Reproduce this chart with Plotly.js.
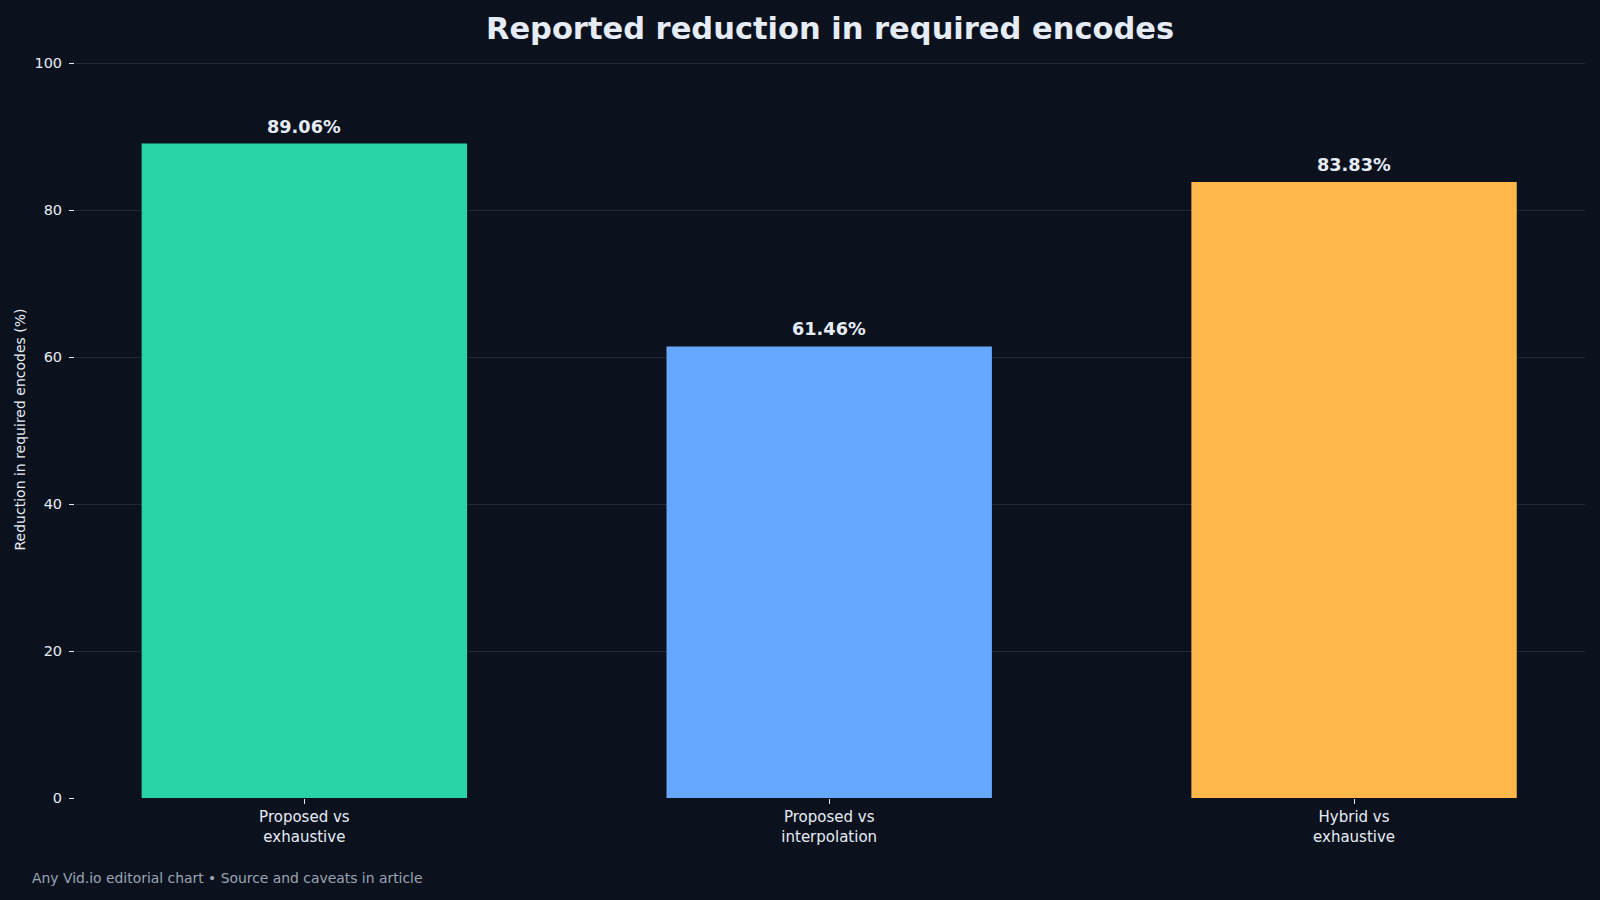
<!DOCTYPE html>
<html>
<head>
<meta charset="utf-8">
<script src="https://cdn.plot.ly/plotly-3.0.1.min.js"></script>
<style>
  html, body { margin: 0; padding: 0; background: #0b121e; }
  #chart { width: 1600px; height: 900px; }
</style>
</head>
<body>
<div id="chart"></div>
<script>
// values
const categories = ["Proposed vs<br>exhaustive", "Proposed vs<br>interpolation", "Hybrid vs<br>exhaustive"];
const reductions = [89.06, 61.46, 83.83];
const barColors = ["#28d3a5", "#66a7ff", "#ffb64a"];
const yTicks = [0, 20, 40, 60, 80, 100];

const textColor = "#e6ecf5";
const font = "DejaVu Sans, Verdana, sans-serif";

const trace = {
  type: "bar",
  x: categories,
  y: reductions,
  width: 0.62,
  marker: { color: barColors, line: { width: 0 } },
  hoverinfo: "skip",
};

const labels = categories.map((c, i) => ({
  x: c,
  y: reductions[i],
  text: "<b>" + reductions[i].toFixed(2) + "%</b>",
  showarrow: false,
  yanchor: "bottom",
  yshift: 5,
  font: { family: font, size: 17.7, color: textColor },
}));

labels.push({
  xref: "paper",
  yref: "paper",
  x: -0.03,
  y: -0.108,
  xanchor: "left",
  yanchor: "middle",
  showarrow: false,
  text: "Any Vid.io editorial chart \u2022 Source and caveats in article",
  font: { family: font, size: 13.9, color: "#9ba5b4" },
});

const layout = {
  width: 1600,
  height: 900,
  paper_bgcolor: "#0b121e",
  plot_bgcolor: "#0b121e",
  font: { family: font, color: textColor },
  margin: { l: 75, r: 15, t: 61, b: 102 },
  showlegend: false,
  title: {
    text: "<b>Reported reduction in required encodes</b>",
    x: 0.5,
    xref: "paper",
    y: 0.969,
    yanchor: "middle",
    font: { family: font, size: 30.5, color: textColor },
  },
  xaxis: {
    type: "category",
    range: [-0.437, 2.44],
    showgrid: false,
    zeroline: false,
    showline: false,
    ticks: "outside",
    ticklen: 5,
    tickcolor: textColor,
    tickfont: { family: font, size: 15, color: textColor },
  },
  yaxis: {
    range: [0, 100.3],
    tickvals: yTicks,
    showgrid: true,
    gridcolor: "#222a37",
    gridwidth: 1,
    zeroline: false,
    showline: false,
    ticks: "outside",
    ticklen: 5,
    tickcolor: textColor,
    ticklabelstandoff: 4,
    tickfont: { family: font, size: 14.5, color: textColor },
    title: {
      text: "Reduction in required encodes (%)",
      standoff: 5,
      font: { family: font, size: 14, color: textColor },
    },
  },
  annotations: labels,
};

Plotly.newPlot("chart", [trace], layout, { displayModeBar: false, staticPlot: true });
</script>
</body>
</html>
